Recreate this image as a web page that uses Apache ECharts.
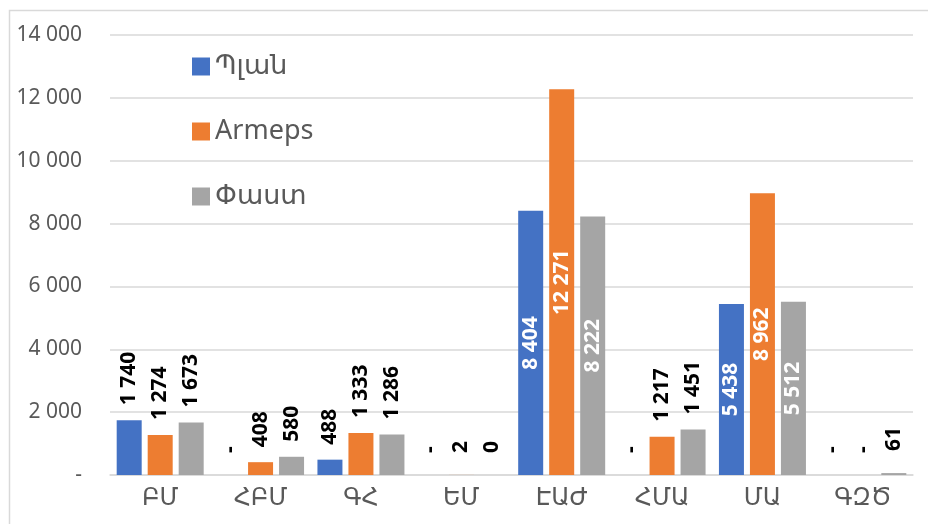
<html>
    <head>
        <meta charset='utf-8'>
        <script src='https://cdn.jsdelivr.net/npm/echarts@6/dist/echarts.min.js'></script>
    </head>
    <body>
        <style>
            html, body, #main {
                width: 100%;
                height: 100%;
                margin: 0;
                background: #fff;
            }
        </style>
        <div id='main'></div>
        <script>

            var categories = ['ԲՄ', 'ՀԲՄ', 'ԳՀ', 'ԵՄ', 'ԷԱԺ', 'ՀՄԱ', 'ՄԱ', 'ԳԶԾ'];
            var seriesNames = ['Պլան', 'Armeps', 'Փաստ'];
            var planData = [1740, 0, 488, 0, 8404, 0, 5438, 0];
            var armepsData = [1274, 408, 1333, 2, 12271, 1217, 8962, 0];
            var factData = [1673, 580, 1286, 0.3, 8222, 1451, 5512, 61];
            var colors = ['#4472C4', '#ED7D31', '#A5A5A5'];

            var FONT = '"Noto Sans", "Open Sans", "DejaVu Sans", sans-serif';

            var chart = echarts.init(document.getElementById('main'));

            function fmt(v) {
                if (v === 0) {
                    return '-';
                }
                return String(Math.round(v)).replace(/\B(?=(\d{3})+(?!\d))/g, ' ');
            }

            function buildData(values) {
                return values.map(function (v) {
                    var inside = v > 4000;
                    return {
                        value: v,
                        label: inside ? {
                            position: 'inside',
                            align: 'center',
                            verticalAlign: 'middle',
                            color: '#fff'
                        } : {
                            position: 'top',
                            align: 'left',
                            verticalAlign: 'middle',
                            distance: v < 100 ? 22 : 15,
                            color: '#000'
                        }
                    };
                });
            }

            var allData = [planData, armepsData, factData];

            var series = seriesNames.map(function (name, i) {
                return {
                    name: name,
                    type: 'bar',
                    barWidth: 25,
                    barGap: '24%',
                    itemStyle: {color: colors[i]},
                    label: {
                        show: true,
                        rotate: 90,
                        fontFamily: FONT,
                        fontWeight: 'bold',
                        fontSize: 21,
                        formatter: function (p) {
                            return fmt(p.value);
                        }
                    },
                    data: buildData(allData[i])
                };
            });

            var option = {
                backgroundColor: '#fff',
                animation: false,
                graphic: [{
                    type: 'rect',
                    left: 7,
                    top: 8,
                    shape: {width: 940, height: 540},
                    style: {fill: 'none', stroke: '#d9d9d9', lineWidth: 1.5},
                    silent: true
                }],
                legend: {
                    orient: 'vertical',
                    left: 187,
                    top: 48,
                    itemWidth: 18,
                    itemHeight: 18,
                    itemGap: 38,
                    icon: 'rect',
                    textStyle: {
                        fontFamily: FONT,
                        fontSize: 27,
                        lineHeight: 27,
                        color: '#595959'
                    },
                    data: seriesNames
                },
                grid: {
                    left: 110,
                    right: 15,
                    top: 35,
                    bottom: 49
                },
                xAxis: {
                    type: 'category',
                    data: categories,
                    axisLine: {lineStyle: {color: '#d9d9d9', width: 1.5}},
                    axisTick: {show: false},
                    axisLabel: {
                        fontFamily: FONT,
                        fontSize: 24,
                        color: '#595959',
                        margin: 11
                    }
                },
                yAxis: {
                    type: 'value',
                    min: 0,
                    max: 14000,
                    interval: 2000,
                    axisLine: {show: false},
                    axisTick: {show: false},
                    splitLine: {lineStyle: {color: '#d9d9d9', width: 1.5}},
                    axisLabel: {
                        fontFamily: FONT,
                        fontSize: 21,
                        color: '#595959',
                        margin: 28,
                        formatter: function (v) {
                            return fmt(v);
                        }
                    }
                },
                series: series
            };

            chart.setOption(option);

        </script>
    </body>
</html>
